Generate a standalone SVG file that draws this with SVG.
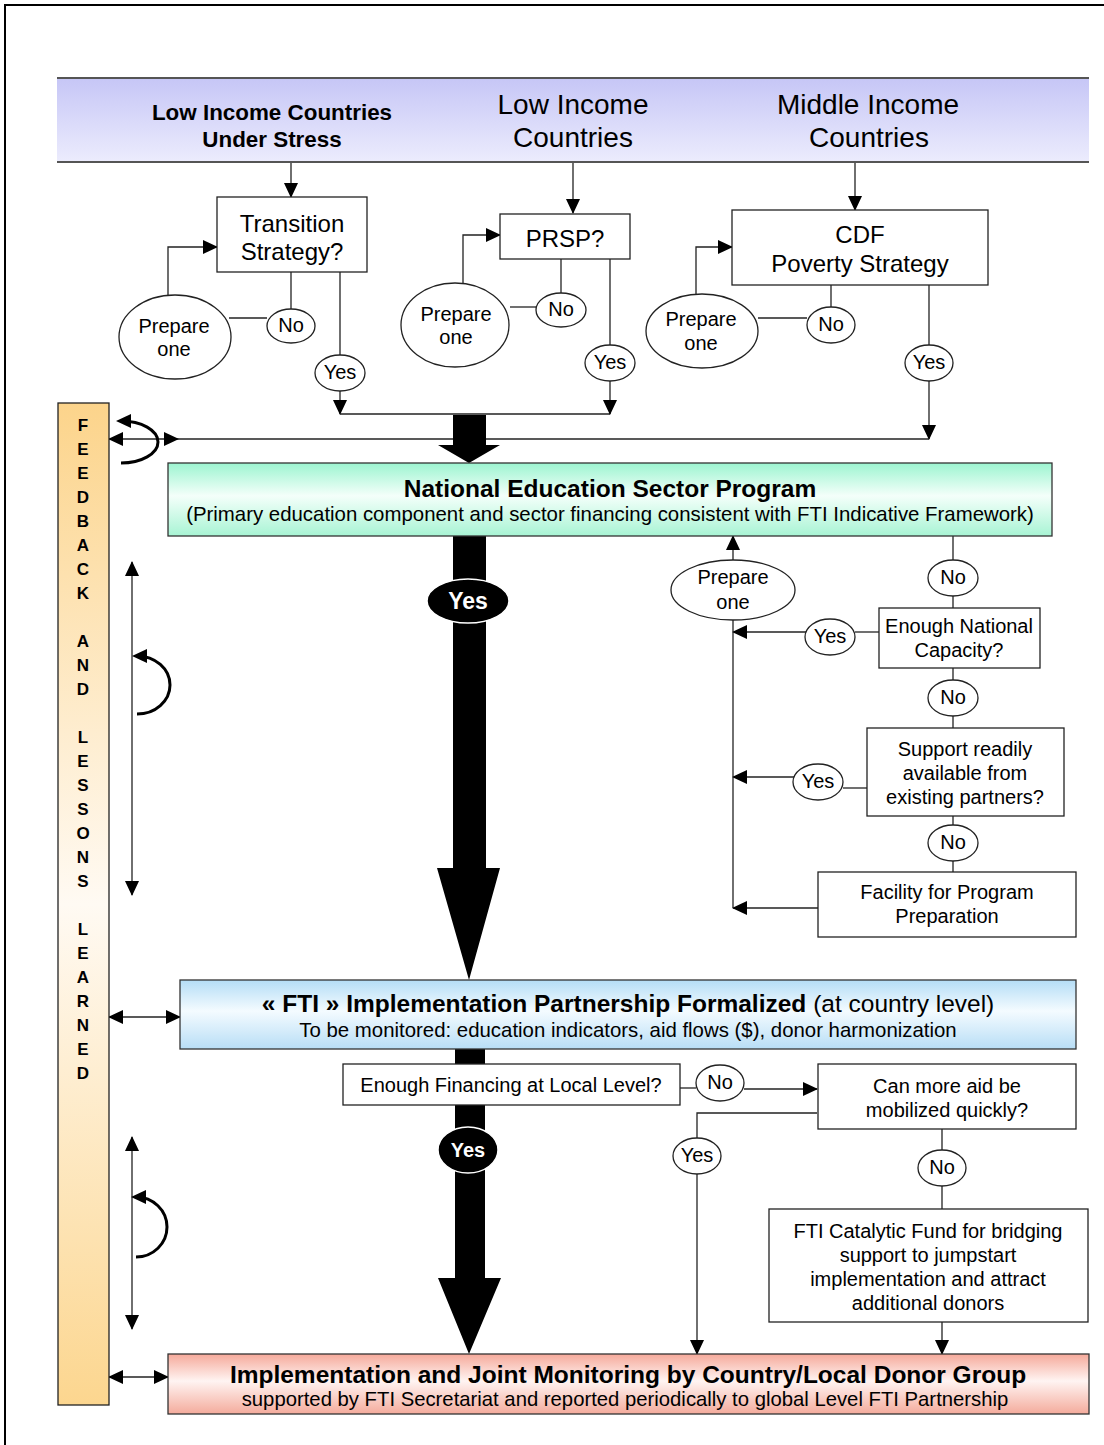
<svg xmlns="http://www.w3.org/2000/svg" width="1104" height="1445" viewBox="0 0 1104 1445">
<defs>
<style>
.t{font-family:"Liberation Sans",Arial,Helvetica,sans-serif;fill:#000;text-anchor:middle;dominant-baseline:central}
.b{font-weight:bold}
.ln{stroke:#222;stroke-width:1.3;fill:none}
.bx{fill:#fff;stroke:#222;stroke-width:1.3}
.cv{stroke:#000;stroke-width:3;fill:none}
.dbl{stroke:#222;stroke-width:1.3;fill:none;marker-start:url(#a);marker-end:url(#a)}
.ar{marker-end:url(#a)}
.big{fill:#000;stroke:#fff;stroke-width:1.5}
</style>
<marker id="a" viewBox="0 0 15 14" refX="14" refY="7" markerWidth="15" markerHeight="14" markerUnits="userSpaceOnUse" orient="auto-start-reverse"><path d="M0,0 L15,7 L0,14 z" fill="#000"/></marker>
<marker id="ac" viewBox="0 0 15 14" refX="10" refY="7" markerWidth="15" markerHeight="14" markerUnits="userSpaceOnUse" orient="auto"><path d="M0,0 L15,7 L0,14 z" fill="#000"/></marker>
<linearGradient id="gh" x1="0" y1="0" x2="0" y2="1"><stop offset="0" stop-color="#c6c6f6"/><stop offset="1" stop-color="#ececfd"/></linearGradient>
<linearGradient id="gg" x1="0" y1="0" x2="0" y2="1"><stop offset="0" stop-color="#9cf4d0"/><stop offset="0.45" stop-color="#f4fffa"/><stop offset="1" stop-color="#a8f4d4"/></linearGradient>
<linearGradient id="gb" x1="0" y1="0" x2="0" y2="1"><stop offset="0" stop-color="#b4ddf6"/><stop offset="0.45" stop-color="#f4fbff"/><stop offset="1" stop-color="#b8def6"/></linearGradient>
<linearGradient id="gr" x1="0" y1="0" x2="0" y2="1"><stop offset="0" stop-color="#f5a99a"/><stop offset="0.45" stop-color="#fff4f2"/><stop offset="1" stop-color="#f4ab9c"/></linearGradient>
<linearGradient id="go" x1="0" y1="0" x2="0" y2="1"><stop offset="0" stop-color="#fcd48b"/><stop offset="0.5" stop-color="#fffaf3"/><stop offset="1" stop-color="#fcd68f"/></linearGradient>
</defs>

<rect x="0" y="0" width="1104" height="1445" fill="#fff"/>
<rect x="5" y="5" width="1200" height="1500" fill="none" stroke="#000" stroke-width="2"/>

<g id="header">
<rect x="57" y="78" width="1032" height="84" fill="url(#gh)"/>
<line x1="57" y1="78" x2="1089" y2="78" stroke="#555" stroke-width="2"/>
<line x1="57" y1="162" x2="1089" y2="162" stroke="#555" stroke-width="2"/>
<text class="t b" x="272" y="112" font-size="22.4">Low Income Countries</text>
<text class="t b" x="272" y="139" font-size="22.4">Under Stress</text>
<text class="t" x="573" y="104" font-size="28">Low Income</text>
<text class="t" x="573" y="137" font-size="28">Countries</text>
<text class="t" x="868" y="104" font-size="28">Middle Income</text>
<text class="t" x="869" y="137" font-size="28">Countries</text>
</g>

<g id="connectors">
<path class="ln ar" d="M291,163 V197"/>
<path class="ln ar" d="M573,163 V213"/>
<path class="ln ar" d="M855,163 V210"/>
<path class="ln ar" d="M168,295 V247 H217"/>
<path class="ln" d="M291,272 V309"/>
<path class="ln" d="M267,318 H229"/>
<path class="ln" d="M340,272 V355"/>
<path class="ln ar" d="M340,391 V414"/>
<path class="ln" d="M340,414 H610"/>
<path class="ln ar" d="M463,283 V235 H500"/>
<path class="ln" d="M561,259 V293"/>
<path class="ln" d="M536,307 H510"/>
<path class="ln" d="M610,259 V345"/>
<path class="ln ar" d="M610,381 V414"/>
<path class="ln ar" d="M696,294 V247 H732"/>
<path class="ln" d="M831,285 V307"/>
<path class="ln" d="M807,318 H758"/>
<path class="ln" d="M929,285 V345"/>
<path class="ln ar" d="M929,381 V439"/>
<path class="ln" d="M178,439 H929"/>
<path class="dbl" d="M109,439 H178"/>
<path class="cv" d="M121,463 A37,21 0 0 0 121,421" marker-end="url(#ac)"/>
<path class="dbl" d="M132,562 V895"/>
<path class="cv" d="M137,714 A33,29 0 0 0 137,656" marker-end="url(#ac)"/>
<path class="dbl" d="M109,1017 H180"/>
<path class="dbl" d="M132,1137 V1329"/>
<path class="cv" d="M136,1257 A31,30 0 0 0 136,1197" marker-end="url(#ac)"/>
<path class="dbl" d="M109,1377 H168"/>
<path d="M453,415 H486 V445 H500 L469,463 L438,445 H453 Z" fill="#000"/>
<path d="M453,536 H486 V868 H500 L469,980 L437,868 H453 Z" fill="#000"/>
<path d="M455,1049 H485 V1278 H501 L469,1354 L438,1278 H455 Z" fill="#000"/>
<path class="ln" d="M953,536 V560"/>
<path class="ln" d="M953,596 V608"/>
<path class="ln" d="M879,632 H855"/>
<path class="ln ar" d="M806,632 H733"/>
<path class="ln" d="M953,668 V680"/>
<path class="ln" d="M953,716 V728"/>
<path class="ln" d="M867,788 H843"/>
<path class="ln ar" d="M794,777 H733"/>
<path class="ln" d="M953,816 V825"/>
<path class="ln" d="M953,861 V872"/>
<path class="ln ar" d="M818,908 H733"/>
<path class="ln" d="M733,620 V908"/>
<path class="ln ar" d="M733,560 V536"/>
<path class="ln" d="M680,1088 H696"/>
<path class="ln ar" d="M744,1089 H817"/>
<path class="ln" d="M817,1113 H697 V1138"/>
<path class="ln ar" d="M697,1174 V1354"/>
<path class="ln" d="M942,1129 V1150"/>
<path class="ln" d="M942,1186 V1209"/>
<path class="ln ar" d="M942,1322 V1354"/>
</g>

<g id="transition">
<rect class="bx" x="217" y="197" width="150" height="75"/>
<text class="t" x="292" y="223" font-size="24">Transition</text>
<text class="t" x="292" y="251" font-size="24">Strategy?</text>
</g>
<g id="prep1"><ellipse class="bx" cx="175" cy="337" rx="56" ry="42"/>
<text class="t" x="174" y="326" font-size="20">Prepare</text><text class="t" x="174" y="349" font-size="20">one</text></g>
<g id="no1"><ellipse class="bx" cx="291" cy="326" rx="24" ry="17"/><text class="t" x="291" y="325" font-size="20">No</text></g>
<g id="yes1"><ellipse class="bx" cx="340" cy="373" rx="25" ry="18"/><text class="t" x="340" y="372" font-size="20">Yes</text></g>

<g id="prsp">
<rect class="bx" x="500" y="214" width="130" height="45"/>
<text class="t" x="565" y="238" font-size="24">PRSP?</text>
</g>
<g id="prep2"><ellipse class="bx" cx="455" cy="325" rx="54" ry="42"/>
<text class="t" x="456" y="314" font-size="20">Prepare</text><text class="t" x="456" y="337" font-size="20">one</text></g>
<g id="no2"><ellipse class="bx" cx="561" cy="310" rx="25" ry="17"/><text class="t" x="561" y="309" font-size="20">No</text></g>
<g id="yes2"><ellipse class="bx" cx="610" cy="363" rx="25" ry="18"/><text class="t" x="610" y="362" font-size="20">Yes</text></g>

<g id="cdf">
<rect class="bx" x="732" y="210" width="256" height="75"/>
<text class="t" x="860" y="234" font-size="24">CDF</text>
<text class="t" x="860" y="263" font-size="24">Poverty Strategy</text>
</g>
<g id="prep3"><ellipse class="bx" cx="702" cy="331" rx="56" ry="37"/>
<text class="t" x="701" y="319" font-size="20">Prepare</text><text class="t" x="701" y="343" font-size="20">one</text></g>
<g id="no3"><ellipse class="bx" cx="831" cy="325" rx="24" ry="18"/><text class="t" x="831" y="324" font-size="20">No</text></g>
<g id="yes3"><ellipse class="bx" cx="929" cy="363" rx="24" ry="18"/><text class="t" x="929" y="362" font-size="20">Yes</text></g>

<g id="feedback">
<rect x="58" y="403" width="51" height="1002" fill="url(#go)" stroke="#222" stroke-width="1.3"/>
<text class="t b" font-size="17"><tspan x="83" y="425">F</tspan><tspan x="83" y="449">E</tspan><tspan x="83" y="473">E</tspan><tspan x="83" y="497">D</tspan><tspan x="83" y="521">B</tspan><tspan x="83" y="545">A</tspan><tspan x="83" y="569">C</tspan><tspan x="83" y="593">K</tspan><tspan x="83" y="641">A</tspan><tspan x="83" y="665">N</tspan><tspan x="83" y="689">D</tspan><tspan x="83" y="737">L</tspan><tspan x="83" y="761">E</tspan><tspan x="83" y="785">S</tspan><tspan x="83" y="809">S</tspan><tspan x="83" y="833">O</tspan><tspan x="83" y="857">N</tspan><tspan x="83" y="881">S</tspan><tspan x="83" y="929">L</tspan><tspan x="83" y="953">E</tspan><tspan x="83" y="977">A</tspan><tspan x="83" y="1001">R</tspan><tspan x="83" y="1025">N</tspan><tspan x="83" y="1049">E</tspan><tspan x="83" y="1073">D</tspan></text>
</g>

<g id="nesp">
<rect x="168" y="463" width="884" height="73" fill="url(#gg)" stroke="#333" stroke-width="1.3"/>
<text class="t b" x="610" y="488" font-size="24.5">National Education Sector Program</text>
<text class="t" x="610" y="514" font-size="20.4">(Primary education component and sector financing consistent with FTI Indicative Framework)</text>
</g>

<g id="yesbig1"><ellipse class="big" cx="468" cy="601" rx="41" ry="22"/><text class="t b" x="468" y="601" font-size="23" style="fill:#fff">Yes</text></g>

<g id="prep4"><ellipse class="bx" cx="733" cy="590" rx="62" ry="30"/>
<text class="t" x="733" y="577" font-size="20">Prepare</text><text class="t" x="733" y="602" font-size="20">one</text></g>
<g id="no4"><ellipse class="bx" cx="953" cy="578" rx="25" ry="18"/><text class="t" x="953" y="577" font-size="20">No</text></g>
<g id="capacity">
<rect class="bx" x="879" y="608" width="161" height="60"/>
<text class="t" x="959" y="626" font-size="20">Enough National</text>
<text class="t" x="959" y="650" font-size="20">Capacity?</text>
</g>
<g id="yes4"><ellipse class="bx" cx="830" cy="637" rx="25" ry="18"/><text class="t" x="830" y="636" font-size="20">Yes</text></g>
<g id="no5"><ellipse class="bx" cx="953" cy="698" rx="25" ry="18"/><text class="t" x="953" y="697" font-size="20">No</text></g>
<g id="support">
<rect class="bx" x="867" y="728" width="197" height="88"/>
<text class="t" x="965" y="749" font-size="20">Support readily</text>
<text class="t" x="965" y="773" font-size="20">available from</text>
<text class="t" x="965" y="797" font-size="20">existing partners?</text>
</g>
<g id="yes5"><ellipse class="bx" cx="818" cy="782" rx="25" ry="18"/><text class="t" x="818" y="781" font-size="20">Yes</text></g>
<g id="no6"><ellipse class="bx" cx="953" cy="843" rx="25" ry="18"/><text class="t" x="953" y="842" font-size="20">No</text></g>
<g id="facility">
<rect class="bx" x="818" y="872" width="258" height="65"/>
<text class="t" x="947" y="892" font-size="20">Facility for Program</text>
<text class="t" x="947" y="916" font-size="20">Preparation</text>
</g>

<g id="fti">
<rect x="180" y="980" width="896" height="69" fill="url(#gb)" stroke="#333" stroke-width="1.3"/>
<text class="t" x="628" y="1003" font-size="24.5"><tspan font-weight="bold">« FTI » Implementation Partnership Formalized</tspan> (at country level)</text>
<text class="t" x="628" y="1030" font-size="20.4">To be monitored: education indicators, aid flows ($), donor harmonization</text>
</g>

<g id="financing">
<rect class="bx" x="343" y="1064" width="337" height="41"/>
<text class="t" x="511" y="1085" font-size="20">Enough Financing at Local Level?</text>
</g>
<g id="no7"><ellipse class="bx" cx="720" cy="1083" rx="24" ry="18"/><text class="t" x="720" y="1082" font-size="20">No</text></g>
<g id="canmore">
<rect class="bx" x="818" y="1064" width="258" height="65"/>
<text class="t" x="947" y="1086" font-size="20">Can more aid be</text>
<text class="t" x="947" y="1110" font-size="20">mobilized quickly?</text>
</g>
<g id="yes6"><ellipse class="bx" cx="697" cy="1156" rx="24" ry="18"/><text class="t" x="697" y="1155" font-size="20">Yes</text></g>
<g id="no8"><ellipse class="bx" cx="942" cy="1168" rx="24" ry="18"/><text class="t" x="942" y="1167" font-size="20">No</text></g>
<g id="yesbig2"><ellipse class="big" cx="468" cy="1150" rx="30" ry="23"/><text class="t b" x="468" y="1150" font-size="20" style="fill:#fff">Yes</text></g>
<g id="catalytic">
<rect class="bx" x="769" y="1209" width="319" height="113"/>
<text class="t" x="928" y="1231" font-size="20">FTI Catalytic Fund for bridging</text>
<text class="t" x="928" y="1255" font-size="20">support to jumpstart</text>
<text class="t" x="928" y="1279" font-size="20">implementation and attract</text>
<text class="t" x="928" y="1303" font-size="20">additional donors</text>
</g>

<g id="impl">
<rect x="168" y="1354" width="921" height="60" fill="url(#gr)" stroke="#333" stroke-width="1.3"/>
<text class="t b" x="628" y="1374" font-size="24.5">Implementation and Joint Monitoring by Country/Local Donor Group</text>
<text class="t" x="625" y="1399" font-size="20.3">supported by FTI Secretariat and reported periodically to global Level FTI Partnership</text>
</g>
</svg>
